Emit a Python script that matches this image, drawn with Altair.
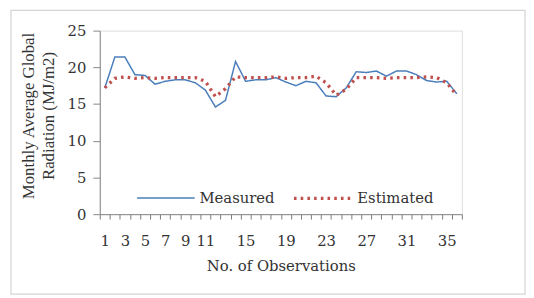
import altair as alt
import pandas as pd

observations = list(range(1, 37))
measured = [17.2, 21.4, 21.4, 19.0, 18.9, 17.7, 18.1, 18.3, 18.3, 17.9, 16.9, 14.6,
            15.5, 20.8, 18.1, 18.3, 18.3, 18.6, 18.0, 17.5, 18.1, 17.9, 16.1, 16.0,
            17.2, 19.4, 19.3, 19.5, 18.8, 19.5, 19.5, 19.0, 18.2, 18.0, 18.1, 16.4]
estimated = [17.2, 18.5, 18.7, 18.5, 18.6, 18.5, 18.6, 18.6, 18.6, 18.6, 18.1, 16.0,
             17.1, 18.7, 18.6, 18.6, 18.6, 18.7, 18.5, 18.6, 18.6, 18.8, 17.9, 16.2,
             17.0, 18.6, 18.6, 18.6, 18.5, 18.6, 18.6, 18.6, 18.7, 18.6, 17.9, 16.2]
series_names = ["Measured", "Estimated"]
x_label_values = [1, 3, 5, 7, 9, 11, 15, 19, 23, 27, 31, 35]
x_tick_values = [i + 0.5 for i in range(0, 37)]
y_ticks = [0, 5, 10, 15, 20, 25]

df = pd.DataFrame({
    "obs": observations * 2,
    "value": measured + estimated,
    "series": ["Measured"] * 36 + ["Estimated"] * 36,
})

W, H = 367, 186
FONT = "DejaVu Serif"
AX = "#868686"

x_scale = alt.Scale(domain=[0.5, 36.5], nice=False, zero=False)
y_scale = alt.Scale(domain=[0, 25], nice=False)

lines = alt.Chart(df).mark_line(strokeCap="butt").encode(
    x=alt.X("obs:Q", scale=x_scale,
            axis=alt.Axis(values=sorted(x_label_values + x_tick_values),
                          ticks=True, tickSize=5, tickColor="#7a7a7a", tickWidth=1,
                          tickOpacity={"condition": {"test": "datum.value % 1 === 0", "value": 0},
                                       "value": 1},
                          labelExpr="datum.value % 1 === 0 ? format(datum.value, 'd') : ''",
                          grid=False,
                          labelFont=FONT, labelFontSize=15, labelColor="#333",
                          labelPadding=15, domainColor=AX, labelFlush=False,
                          labelOverlap=False, labelBound=False,
                          title="No. of Observations", titleFont=FONT,
                          titleFontSize=15, titleFontWeight="normal",
                          titleColor="#333", titlePadding=10)),
    y=alt.Y("value:Q", scale=y_scale,
            axis=alt.Axis(values=y_ticks, grid=False, tickSize=7, tickColor=AX,
                          domainColor=AX, labelFont=FONT, labelFontSize=15,
                          labelColor="#333", labelPadding=7, labelOverlap=False,
                          title=["Monthly Average Global", "Radiation (MJ/m2)"],
                          titleFont="Liberation Serif", titleFontSize=17,
                          titleFontWeight="normal", titleColor="#333",
                          titlePadding=10, titleLineHeight=20, titleY=86)),
    color=alt.Color("series:N",
                    scale=alt.Scale(domain=series_names, range=["#4a7ebb", "#c0504d"]),
                    legend=alt.Legend(title=None, orient="none", legendX=37, legendY=139,
                                      direction="horizontal", symbolType="stroke",
                                      symbolSize=3400, labelFont=FONT, labelFontSize=15,
                                      labelColor="#333", labelOffset=4, columnPadding=12,
                                      padding=0)),
    strokeDash=alt.StrokeDash("series:N",
                              scale=alt.Scale(domain=series_names, range=[[1, 0], [2.6, 4.2]]),
                              legend=alt.Legend(title=None)),
    strokeWidth=alt.StrokeWidth("series:N",
                                scale=alt.Scale(domain=series_names, range=[1.5, 3.3]),
                                legend=alt.Legend(title=None)),
    order=alt.Order("series:N", sort="descending"),
)

frame_df = pd.DataFrame({"k": [0]})
frame = alt.Chart(frame_df).mark_rect(fill=None, stroke="#d4d4d4", strokeWidth=1.2).encode(
    x=alt.value(-90), x2=alt.value(431), y=alt.value(-20.5), y2=alt.value(267),
)

chart = alt.layer(frame, lines).properties(
    width=W, height=H,
    autosize=alt.AutoSizeParams(type="none"),
    padding={"left": 93, "top": 21, "right": 65, "bottom": 82},
).configure_view(stroke=None).configure(background="white")

chart.save("out.html", embed_options={"renderer": "svg", "actions": False})
